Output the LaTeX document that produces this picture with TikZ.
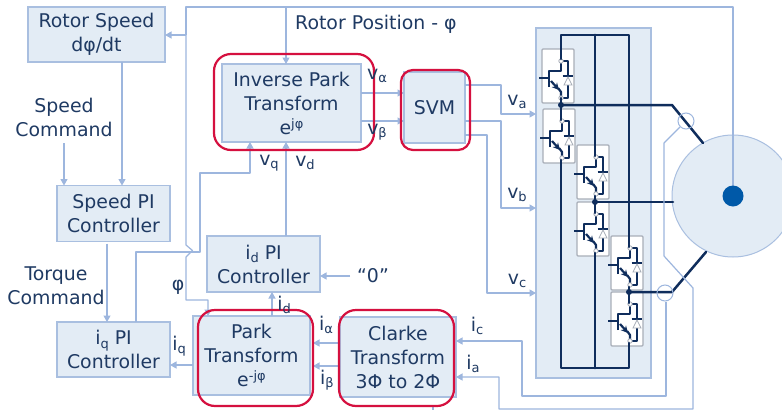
\documentclass[tikz,border=0pt]{standalone}
\usepackage{fontspec}
\setmainfont{DejaVu Sans}
\usetikzlibrary{arrows.meta}
\definecolor{boxfill}{HTML}{E3ECF5}
\definecolor{boxline}{HTML}{A9BFE0}
\definecolor{wire}{HTML}{9DB6DE}
\definecolor{hilite}{HTML}{D5103F}
\definecolor{txt}{HTML}{1F3A63}
\definecolor{dark}{HTML}{0F2D5C}
\definecolor{igb}{HTML}{A8AEB8}
\definecolor{hub}{HTML}{0059A8}
\newcommand{\lsub}[1]{\raisebox{-3.5pt}{\fontsize{13}{13}\selectfont #1}}
\newcommand{\lsup}[1]{\raisebox{6pt}{\fontsize{13}{13}\selectfont #1}}
\tikzset{
  x=1pt,y=-1pt,
  blockbox/.style={draw=boxline,fill=boxfill,line width=1.3pt,outer sep=0pt,inner sep=0pt,align=center,text=txt,font=\fontsize{18.9}{24}\selectfont},
  label text/.style={text=txt,inner sep=0pt,align=center,font=\fontsize{18.9}{24}\selectfont},
  link/.style={draw=wire,line width=1.2pt,line join=round},
  arr/.style={link,-{Triangle[length=6.5pt,width=7pt]}},
  redbox/.style={draw=hilite,line width=2.2pt,rounded corners=17pt},
  bus/.style={draw=dark,line width=2.5pt,line join=round,line cap=round},
  rail/.style={bus,line width=2.9pt},
  igbtbox/.style={draw=igb,fill=white,line width=1.2pt,rounded corners=1pt},
  igbtwire/.style={draw=dark,line width=1.4pt,line join=round},
  igbtthick/.style={draw=dark,line width=2.2pt,line join=round},
  igbtpin/.style={draw=igb,fill=white,line width=.8pt},
}
\newcommand{\igbtcell}[2]{%
  \begin{scope}[shift={(#1,#2)}]
    \path[igbtbox] (0,0) rectangle (32,54);
    \draw[igbtwire] (-3,29) -- (6,29);
    \draw[igbtthick] (7,38) -- (7,22) -- (19,22) -- (19,12);
    \draw[igbtthick,-{Stealth[length=7pt,width=7pt]}] (9,32) -- (17,41);
    \draw[igbtthick] (16,39) -- (19,43) -- (19,49);
    \draw[igbtwire] (19,12) -- (26,12) -- (26,27);
    \draw[igbtwire] (26,36) -- (26,49) -- (19,49);
    \draw[igbtthick] (20.5,27) -- (31,27);
    \draw[draw=igb,fill=white,line width=.8pt] (26,28) -- (22,36) -- (30,36) -- cycle;
    \path[igbtpin] (19,12) circle (2.2);
    \path[igbtpin] (19,49) circle (2.2);
  \end{scope}}
\begin{document}
\begin{tikzpicture}
\path[use as bounding box,clip] (0,0) rectangle (782,410);
\fill[white] (0,0) rectangle (782,410);

% motor
\path[draw=boxline,fill=boxfill,line width=1pt] (733,196) circle (61);

% inverter panel
\path[draw=boxline,fill=boxfill,line width=1.2pt] (536,28) rectangle (651,378);

\igbtcell{542}{49}
\igbtcell{543}{109}
\igbtcell{577}{145}
\igbtcell{577}{202}
\igbtcell{611}{236}
\igbtcell{611}{292}

% rails of the inverter, between the cells
\draw[rail] (561,59) -- (561,35) -- (629,35) -- (629,247);
\draw[rail] (595,35) -- (595,156);
\draw[rail] (561,98) -- (561,120);
\draw[rail] (561,160) -- (561,368) -- (629,368) -- (629,343);
\draw[rail] (595,196) -- (595,213);
\draw[rail] (595,253) -- (595,368);
\draw[rail] (629,287) -- (629,303);

% phase lines
\draw[bus] (561,105) -- (672,105) -- (703,143);
\draw[bus] (595,202) -- (673,202);
\draw[bus] (629,292) -- (672,292) -- (706,252);
\fill[dark] (561,105) circle (3) (595,202) circle (3) (629,292) circle (3);

% blocks
\node[blockbox,minimum width=137pt,minimum height=55pt] (speed) at (96.5,34.5) {Rotor Speed\\d\lsub{}φ/dt};
\node[blockbox,minimum width=113pt,minimum height=56pt] (spi) at (113.5,213.5) {Speed PI\\Controller};
\node[blockbox,minimum width=113pt,minimum height=55pt] (qpi) at (113.5,349.5) {i\lsub{q} PI\\Controller};
\node[blockbox,minimum width=113pt,minimum height=56pt] (dpi) at (263.5,264) {i\lsub{d} PI\\Controller};
\node[blockbox,minimum width=117pt,minimum height=79pt] (park) at (251.5,355.5) {Park\\Transform\\e\lsup{-jφ}};
\node[blockbox,minimum width=116pt,minimum height=80pt] (clarke) at (398,357) {Clarke\\Transform\\3Φ to 2Φ};
\node[blockbox,minimum width=139pt,minimum height=78pt] (ipark) at (291.5,103) {Inverse Park\\Transform\\e\lsup{jφ}};
\node[blockbox,minimum width=61pt,minimum height=71pt] (svm) at (434.5,107.5) {SVM};

% free labels with arrows
\node[label text] (speedcmd) at (64,117) {Speed\\Command};
\node[label text] (torquecmd) at (56,285.5) {Torque\\Command};
\node[label text] (zero) at (373,276) {“0”};
\node[label text,anchor=west] (pos) at (295,24) {Rotor Position - φ};

% rotor position loop
\coordinate (hubc) at (733,196);
\draw[link] (186,35) |- (7,7 -| hubc) -- (hubc);
\draw[arr] (186,35) -- (speed.east |- 0,35);
\draw[arr] (286,7) -- (ipark.north -| 286,0);
\draw[arr] (186,35) -- (186,245) -- (192.5,250.5) -- (186,257) -- (186,300) -- (208,300) -- (park.north -| 208,0);

% controllers
\draw[arr] (122,0 |- speed.south) -- (122,0 |- spi.north);
\draw[arr] (64,143) -- (64,0 |- spi.north);
\draw[arr] (107,0 |- spi.south) ++(0,2) -- (107,0 |- qpi.north);
\draw[arr] (qpi.north -| 136,0) -- (136,252) -- (200,252) -- (200,173) -- (250,173) -- (ipark.south -| 250,0);
\draw[arr] (dpi.north -| 286,0) -- (ipark.south -| 286,0);
\draw[arr] (park.north -| 272,0) -- (dpi.south -| 272,0);
\draw[arr] (park.west |- 0,365) -- (qpi.east |- 0,365);
\draw[arr] (350,276) -- (dpi.east |- 0,276);
\draw[arr] (clarke.west |- 0,343) -- (313,343);
\draw[arr] (clarke.west |- 0,366) -- (313,366);
\draw[arr] (ipark.east |- 0,93) -- (svm.west |- 0,93);
\draw[arr] (ipark.east |- 0,121) -- (svm.west |- 0,121);

% SVM to the inverter
\draw[arr] (svm.east |- 0,85) -- (501,85) -- (501,114) -- (536,114);
\draw[arr] (svm.east |- 0,121) -- (501,121) -- (501,208) -- (536,208);
\draw[arr] (svm.east |- 0,135) -- (487,135) -- (487,293) -- (536,293);

% current sensors
\node[circle,draw=wire,line width=1pt,minimum size=16pt,inner sep=0pt] (sa) at (686,121) {};
\node[circle,draw=wire,line width=1pt,minimum size=16pt,inner sep=0pt] (sc) at (665,293) {};
\draw[arr] (sc.south) ++(1,0) -- (666,396) -- (522,396) -- (522,341) -- (clarke.east |- 0,341);
\draw[arr] (sa.south west) -- (664,143) -- (664,256) -- (693,288) -- (693,409) -- (499,409) -- (499,377) -- (clarke.east |- 0,377);
\draw[link] (433,407) -- (433,410);

% hub drawn over the motor
\fill[hub] (hubc) circle (10.5);

% highlights
\draw[redbox] (214,54) rectangle (374,150);
\draw[redbox,rounded corners=12pt] (401,70) rectangle (470,150);
\draw[redbox] (198,310) rectangle (313,406);
\draw[redbox] (339,310) rectangle (454,406);

% signal labels
\node[label text] (lva) at (377,76) {v\lsub{α}};
\node[label text] (lvb) at (377,132) {v\lsub{β}};
\node[label text] (lvq) at (269,163) {v\lsub{q}};
\node[label text] (lvd) at (305,163) {v\lsub{d}};
\node[label text] (lva2) at (517,102) {v\lsub{a}};
\node[label text] (lvb2) at (517,195) {v\lsub{b}};
\node[label text] (lvc2) at (517,281) {v\lsub{c}};
\node[label text] (lphi) at (178,287) {φ};
\node[label text] (liq) at (179,346) {i\lsub{q}};
\node[label text] (lid) at (284,305) {i\lsub{d}};
\node[label text] (lia) at (326,325) {i\lsub{α}};
\node[label text] (lib) at (327,380) {i\lsub{β}};
\node[label text] (lic) at (477,326) {i\lsub{c}};
\node[label text] (lias) at (473,364) {i\lsub{a}};
\end{tikzpicture}
\end{document}
